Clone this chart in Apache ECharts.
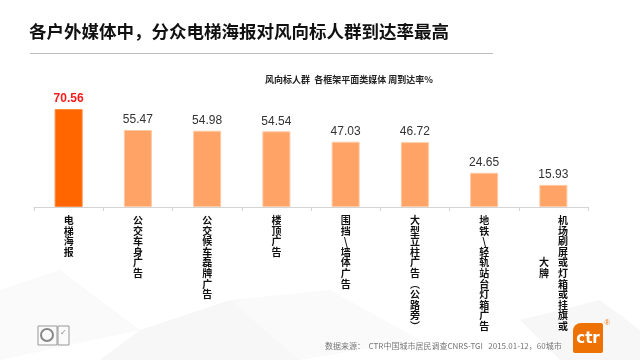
<!DOCTYPE html>
<html><head><meta charset="utf-8">
<script src="https://cdn.jsdelivr.net/npm/echarts@6/dist/echarts.min.js"></script>
<style>html,body{margin:0;padding:0;background:#fff;}#c{width:640px;height:360px;}</style>
</head><body><div id="c"></div>
<script>
var titleText = '各户外媒体中，分众电梯海报对风向标人群到达率最高';
var subtitleText = '风向标人群  各框架平面类媒体 周到达率%';
var sourceText = '数据来源：  CTR中国城市居民调查CNRS-TGI   2015.01-12，60城市';
var categories = ['电梯海报','公交车身广告','公交候车磊牌广告','楼顶广告','围挡\\墙体广告','大型立柱广告︵公路旁︶','地铁\\轻轨站台灯箱广告','机场刷屏或灯箱或挂旗或大牌'];
var values = [70.56, 55.47, 54.98, 54.54, 47.03, 46.72, 24.65, 15.93];

var chart = echarts.init(document.getElementById('c'));
var FONT = '"Noto Sans CJK SC", sans-serif';
var COL_LEN = 11;
var LH = 10.6;

function verticalLabel(s) {
  var chars = Array.from(s);
  if (chars.length <= COL_LEN) return chars.join('\n');
  var c1 = chars.slice(0, COL_LEN), c2 = chars.slice(COL_LEN);
  var off = 4;
  var lines = [];
  for (var i = 0; i < c1.length; i++) {
    var l = (i - off >= 0 && i - off < c2.length) ? c2[i - off] : ' ';
    lines.push('{l|' + l + '}{g|}{r|' + c1[i] + '}');
  }
  return lines.join('\n');
}

var polys = [
  [[0,290],[60,270],[140,330],[0,360]],
  [[140,330],[230,300],[300,360],[100,360]],
  [[230,300],[330,290],[420,340],[300,360]],
  [[520,320],[600,300],[640,330],[640,360],[560,360]]
];

var txt = { fontSize: 10, lineHeight: LH, color: '#111', fontFamily: FONT, fontWeight: 'bold' };

chart.setOption({
  animation: false,
  backgroundColor: '#fff',
  grid: { left: 34, right: 52, top: 96, bottom: 153 },
  xAxis: {
    type: 'category',
    data: categories,
    axisLine: { lineStyle: { color: '#d4d4d4', width: 1 } },
    axisTick: { show: true, length: 4, lineStyle: { color: '#d4d4d4' } },
    axisLabel: {
      interval: 0, margin: 8, color: '#111', fontSize: 10, lineHeight: LH,
      fontFamily: FONT, fontWeight: 'bold', verticalAlign: 'top',
      formatter: function (v) { return verticalLabel(v); },
      rich: {
        l: Object.assign({ width: 11, align: 'center' }, txt),
        g: { width: 8 },
        r: Object.assign({ width: 11, align: 'center' }, txt)
      }
    }
  },
  yAxis: { type: 'value', min: 0, max: 80, show: false, splitLine: { show: false } },
  series: [{
    type: 'bar',
    barWidth: 28,
    data: values.map(function (v, i) {
      return {
        value: v,
        itemStyle: { color: i === 0 ? '#FF6600' : '#FFA366', borderColor: i === 0 ? '#ff8a3d' : '#ffc9a3', borderWidth: 1 },
        label: i === 0 ? { color: '#FF1A1A', fontWeight: 'bold', fontSize: 12 } : {}
      };
    }),
    label: { show: true, position: 'top', distance: 4, color: '#333', fontSize: 12, fontFamily: 'Liberation Sans, Arial, sans-serif',
      formatter: function (p) { return p.value.toFixed(2); } }
  }],
  graphic: [
    { type: 'group', silent: true, z: -10, children: polys.map(function (p, i) {
      return { type: 'polygon', shape: { points: p }, style: { fill: i % 2 ? '#f7f7f7' : '#fafafa' } };
    }) },
    { type: 'text', left: 29, top: 23, style: { text: titleText, fontSize: 17.5, fontWeight: 'bold', fill: '#111', fontFamily: FONT } },
    { type: 'line', shape: { x1: 30, y1: 53.5, x2: 493, y2: 53.5 }, style: { stroke: '#bdbdbd', lineWidth: 1 } },
    { type: 'text', x: 349, y: 80, style: { text: subtitleText, fontSize: 9, fontWeight: 'bold', fill: '#222', fontFamily: FONT, align: 'center', verticalAlign: 'middle' } },
    { type: 'text', x: 325, y: 346, style: { text: sourceText, fontSize: 8, fill: '#777', fontFamily: FONT, verticalAlign: 'middle' } },
    { type: 'rect', shape: { x: 38, y: 326, width: 19, height: 19 }, style: { fill: '#fafafa', stroke: '#999', lineWidth: 1 } },
    { type: 'circle', shape: { cx: 47, cy: 335, r: 6 }, style: { fill: 'none', stroke: '#888', lineWidth: 2 } },
    { type: 'rect', shape: { x: 58, y: 326, width: 11, height: 19 }, style: { fill: '#fafafa', stroke: '#999', lineWidth: 1 } },
    { type: 'text', x: 63.5, y: 333, style: { text: '✓', fontSize: 8, fill: '#888', align: 'center', verticalAlign: 'middle' } },
    { type: 'rect', shape: { x: 573, y: 323, width: 30, height: 30, r: [8, 2, 2, 2] }, style: { fill: '#EE7203' } },
    { type: 'text', x: 588, y: 339, style: { text: 'ctr', fontSize: 15, fontWeight: 'bold', fill: '#fff', fontFamily: 'DejaVu Sans, sans-serif', align: 'center', verticalAlign: 'middle' } },
    { type: 'text', x: 607, y: 323, style: { text: '®', fontSize: 7, fill: '#EE7203', align: 'center', verticalAlign: 'middle' } }
  ]
});
</script></body></html>
